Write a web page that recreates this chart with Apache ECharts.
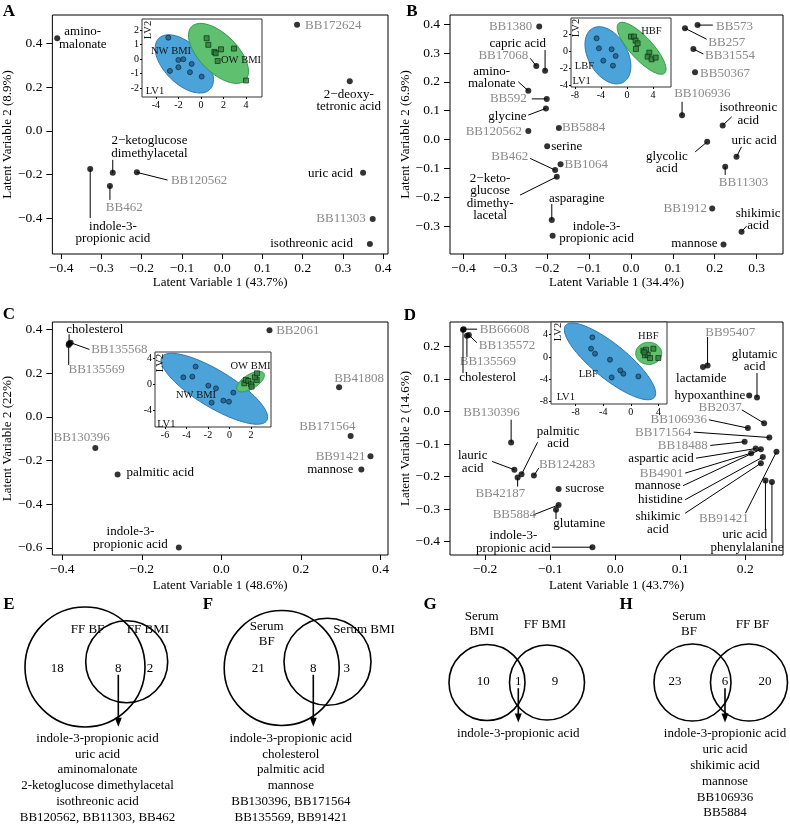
<!DOCTYPE html>
<html>
<head>
<meta charset="utf-8">
<title>PLS-DA panels</title>
<script src="https://cdn.jsdelivr.net/npm/echarts@6/dist/echarts.min.js"></script>
<style>
  html, body { margin: 0; padding: 0; background: #fff; }
  #main { width: 790px; height: 825px; }
</style>
</head>
<body>
<div id="main"></div>
<script>
// ---------- panel A (FF, BMI) ----------
const aNames = ['amino-\nmalonate', 'BB172624', '2\u2212deoxy-\ntetronic acid', 'uric acid', 'BB11303', 'isothreonic acid',
  'indole-3-\npropionic acid', '2\u2212ketoglucose\ndimethylacetal', 'BB462', 'BB120562'];
const aX = [-0.41, 0.186, 0.317, 0.350, 0.374, 0.367, -0.328, -0.272, -0.279, -0.212];
const aY = [0.423, 0.484, 0.226, -0.192, -0.403, -0.517, -0.175, -0.192, -0.252, -0.190];

// ---------- panel B (FF, body fat) ----------
const bNames = ['BB1380', 'capric acid', 'BB17068', 'amino-\nmalonate', 'BB592', 'glycine', 'BB120562', 'BB5884', 'serine',
  'BB1064', 'BB462', '2\u2212keto-\nglucose\ndimethy-\nlacetal', 'asparagine', 'indole-3-\npropionic acid', 'BB573', 'BB257',
  'BB31554', 'BB50367', 'BB106936', 'isothreonic\nacid', 'glycolic\nacid', 'uric acid', 'BB11303', 'BB1912',
  'shikimic\nacid', 'mannose'];
const bX = [-0.219, -0.205, -0.226, -0.245, -0.201, -0.203, -0.245, -0.172, -0.200, -0.168, -0.181, -0.177, -0.189,
  -0.187, 0.159, 0.129, 0.149, 0.153, 0.122, 0.219, 0.182, 0.252, 0.225, 0.194, 0.264, 0.221];
const bY = [0.392, 0.239, 0.255, 0.169, 0.141, 0.108, 0.030, 0.040, -0.023, -0.086, -0.106, -0.129, -0.279, -0.334,
  0.397, 0.386, 0.314, 0.233, 0.084, 0.049, -0.008, -0.060, -0.094, -0.239, -0.320, -0.364];

// ---------- panel C (serum, BMI) ----------
const cNames = ['cholesterol', 'BB135568', 'BB135569', 'BB2061', 'BB41808', 'BB171564', 'BB91421', 'mannose', 'BB130396',
  'palmitic acid', 'indole-3-\npropionic acid'];
const cX = [-0.383, -0.379, -0.384, 0.121, 0.296, 0.325, 0.375, 0.352, -0.317, -0.261, -0.107];
const cY = [0.336, 0.340, 0.330, 0.397, 0.136, -0.087, -0.180, -0.241, -0.142, -0.264, -0.599];

// ---------- panel D (serum, body fat) ----------
const dNames = ['BB66608', 'BB135572', 'BB135569', 'cholesterol', 'BB130396', 'lauric\nacid', 'BB42187', 'palmitic\nacid',
  'BB124283', 'sucrose', 'BB5884', 'glutamine', 'indole-3-\npropionic acid', 'lactamide', 'BB95407', 'hypoxanthine',
  'glutamic\nacid', 'BB2037', 'BB106936', 'BB171564', 'BB18488', 'aspartic acid', 'BB4901', 'mannose', 'histidine',
  'shikimic\nacid', 'BB91421', 'uric acid', 'phenylalanine'];
const dX = [-0.233, -0.225, -0.228, -0.234, -0.160, -0.155, -0.150, -0.144, -0.125, -0.087, -0.087, -0.091, -0.035,
  0.135, 0.142, 0.206, 0.218, 0.229, 0.204, 0.237, 0.199, 0.216, 0.209, 0.224, 0.227, 0.224, 0.248, 0.231, 0.241];
const dY = [0.253, 0.235, 0.233, 0.251, -0.095, -0.179, -0.203, -0.193, -0.197, -0.238, -0.287, -0.302, -0.417,
  0.137, 0.141, 0.049, 0.043, -0.036, -0.051, -0.080, -0.093, -0.114, -0.128, -0.116, -0.140, -0.159, -0.124,
  -0.212, -0.217];

// axis ticks and titles
const aTicksX = [-0.4, -0.3, -0.2, -0.1, 0, 0.1, 0.2, 0.3, 0.4];
const aTicksY = [-0.4, -0.2, 0, 0.2, 0.4];
const bTicksX = [-0.4, -0.3, -0.2, -0.1, 0, 0.1, 0.2, 0.3];
const bTicksY = [-0.3, -0.2, -0.1, 0, 0.1, 0.2, 0.3, 0.4];
const cTicksX = [-0.4, -0.2, 0, 0.2, 0.4];
const cTicksY = [-0.6, -0.4, -0.2, 0, 0.2, 0.4];
const dTicksX = [-0.2, -0.1, 0, 0.1, 0.2];
const dTicksY = [-0.4, -0.3, -0.2, -0.1, 0, 0.1, 0.2];
const xTitles = ['Latent Variable 1 (43.7%)', 'Latent Variable 1 (34.4%)', 'Latent Variable 1 (48.6%)', 'Latent Variable 1 (43.7%)'];
const yTitles = ['Latent Variable 2 (8.9%)', 'Latent Variable 2 (6.9%)', 'Latent Variable 2 (22%)', 'Latent Variable 2 (14.6%)'];

// ---------- inset score plots (LV1, LV2) ----------
const insBlueX = [
  [-2.90, -2.76, -2.01, -1.57, -2.01, -0.83, -0.98, 0.06],
  [-4.67, -4.31, -2.36, -1.74, -3.64, -2.15],
  [-3.15, -4.29, -3.46, -1.97, -1.26, 0.36, -1.66, -0.57, -0.05],
  [-5.58, -5.77, -5.19, -3.02, -1.52, -1.08, -2.78, 1.10]];
const insBlueY = [
  [1.47, -0.81, -0.06, -0.01, -0.56, -0.33, -0.90, -1.20],
  [1.49, 0.31, 0.20, -0.59, -1.14, -1.73],
  [2.72, 1.08, 1.18, -0.21, -0.62, -1.28, -2.82, -2.51, -2.67],
  [3.52, 1.48, 0.58, -0.50, -2.42, -3.02, -3.68, -3.50]];
const insGreenX = [
  [0.50, 0.65, 1.19, 1.30, 1.78, 1.48, 2.93, 4.00],
  [0.62, 1.08, 1.33, 1.64, 1.38, 3.44, 3.18, 3.79, 4.41],
  [1.38, 1.53, 1.75, 2.00, 2.06, 2.53, 2.37, 2.56],
  [1.82, 2.21, 2.06, 2.45, 2.79, 3.27, 4.00, 1.97]];
const insGreenY = [
  [1.43, 0.98, 0.49, 0.40, 0.67, -0.13, 0.72, -1.47],
  [1.69, 1.69, 1.22, 0.90, 0.24, -0.20, -0.67, -0.98, -0.78],
  [0.15, 0.67, 0.51, 0.00, -0.36, 0.67, 1.08, 1.69],
  [1.12, 1.30, 0.28, 0.40, -0.20, 1.48, -0.20, 0.82]];
// confidence ellipses: major-axis end points (x1, y1, x2, y2) and minor/major ratio
const insBlueEll = [[-3.75, 1.42, 0.79, -2.08, 0.55], [-5.31, 2.65, -0.54, -3.67, 0.63],
  [-6.29, 4.20, 3.47, -5.58, 0.30], [-9.46, 5.67, 3.42, -7.27, 0.30]];
const insGreenEll = [[-0.83, 2.23, 3.94, -1.45, 0.50], [-1.28, 3.24, 5.79, -2.61, 0.33],
  [0.71, -0.86, 3.20, 1.68, 0.45], [0.71, 0.64, 4.48, 0.64, 0.85]];
const insTicksX = [[-4, -2, 0, 2, 4], [-8, -4, 0, 4], [-6, -4, -2, 0, 2], [-8, -4, 0, 4]];
const insTicksY = [[-2, -1, 0, 1, 2], [-4, -2, 0, 2], [-4, 0, 4], [-8, -4, 0, 4]];
const insBlueName = ['NW BMI', 'LBF', 'NW BMI', 'LBF'];
const insGreenName = ['OW BMI', 'HBF', 'OW BMI', 'HBF'];

// ---------- Venn diagrams E-H ----------
const vennSetA = ['FF BF', 'Serum\nBF', 'Serum\nBMI', 'Serum\nBF'];
const vennSetB = ['FF BMI', 'Serum BMI', 'FF BMI', 'FF BF'];
const vennOnlyA = [18, 21, 10, 23];
const vennBoth = [8, 8, 1, 6];
const vennOnlyB = [2, 3, 9, 20];
const vennShared = [
  ['indole-3-propionic acid', 'uric acid', 'aminomalonate', '2-ketoglucose dimethylacetal', 'isothreonic acid', 'BB120562, BB11303, BB462'],
  ['indole-3-propionic acid', 'cholesterol', 'palmitic acid', 'mannose', 'BB130396, BB171564', 'BB135569, BB91421'],
  ['indole-3-propionic acid'],
  ['indole-3-propionic acid', 'uric acid', 'shikimic acid', 'mannose', 'BB106936', 'BB5884']];

// ================= layout (positions / styles only) =================
const SERIF = '"Liberation Serif", "Times New Roman", serif';
const mainGrid = [
  { left: 49, top: 15, width: 339, height: 239 },
  { left: 450, top: 15, width: 333, height: 239 },
  { left: 49, top: 322, width: 339, height: 233 },
  { left: 450, top: 322, width: 333, height: 233 }];
const mainRangeX = [[-0.422, 0.412], [-0.432, 0.363], [-0.425, 0.419], [-0.254, 0.258]];
const mainRangeY = [[-0.563, 0.529], [-0.397, 0.432], [-0.633, 0.435], [-0.441, 0.275]];
const xNameGap = [22, 22, 24, 24];
const yNameGap = [29, 32, 27, 35];
const insGrid = [
  { left: 142, top: 19, width: 120, height: 78 },
  { left: 571, top: 18, width: 100, height: 69 },
  { left: 155, top: 352, width: 116, height: 75 },
  { left: 551, top: 322, width: 116, height: 82 }];
const insRangeX = [[-5.24, 5.42], [-8.6, 6.77], [-6.93, 3.86], [-11.58, 5.25]];
const insRangeY = [[-2.6, 2.75], [-4.24, 3.88], [-6.57, 4.97], [-8.46, 6.28]];

// label placement per point: [dx, dy, align, lineEndDx, lineEndDy]  (pixels from the point)
const aLay = [[25.5, 0, 'c'], [8, 1, 'l'], [-1, 19.5, 'c'], [-10, 0.5, 'r'], [-7, 0, 'r'], [-17, 0, 'r'],
  [22.7, 63.5, 'c', 0, 49], [36.7, -25.7, 'c', 0, -13], [14.3, 21.3, 'c', 0, 14], [34, 8, 'l', 30.7, 7.7]];
const bLay = [[-7, 0, 'r'], [-27.3, -27.4, 'c', 0, -20.7], [-8, -10, 'r', -6, -7.7], [-36.6, -13.2, 'c', -10, -9],
  [-20, 0, 'r', -15, 0], [-19.3, 8.4, 'r', -17.7, 6.7], [-6.3, 1, 'r'], [3, 0, 'l'], [4, 0.7, 'l'], [4, 0, 'l'],
  [-27, -14, 'r', -25, -11.7], [-66.7, 20.5, 'c', -36.7, 18.3], [25, -21.7, 'c', 0, -16], [44, -3.2, 'c'],
  [18.5, 1.7, 'l', 15.3, 0], [23.3, 14, 'l', 21.7, 11], [11.7, 7, 'l', 10, 5], [5, 1.7, 'l'],
  [20.3, -21.3, 'c', 0, -13.6], [25.6, -11.1, 'c', 9, -8.6], [-40.3, 20.8, 'c', -12, 10], [17.6, -16, 'c', 5, -10],
  [18.3, 16, 'c', 0, 8.3], [-5.3, 0, 'r'], [16.6, -12, 'c', 5, -5.7], [-6, -1, 'r']];
const cLay = [[25.7, -14, 'c', 0, -9.3], [20.5, 6.7, 'l', 18.7, 6.7], [28, 25, 'c', 0, 20], [6.7, 0.7, 'l'],
  [20, -8.7, 'c'], [-23.3, -9.7, 'c'], [-5, 0, 'r'], [-8, 0, 'r'], [-13.7, -10, 'c'], [9, -1.6, 'l'], [-48.4, -9.3, 'c']];
const dLay = [[16, 0, 'l', 13.4, 0], [10, 10.4, 'l', 8, 7.7], [21, 25.7, 'c', 0, 21.3], [24.7, 47.7, 'c', 0, 43.3],
  [-19.6, -29.4, 'c', 0, -22.7], [-41.7, -7.5, 'c', -22.3, -8.3], [-17.3, 15.6, 'c', 0, 9], [36.6, -36.8, 'c', 16, -32],
  [5, -11.4, 'l', 5, -7.7], [6.7, 0, 'l'], [-44.3, 10, 'c', -25.3, 10], [23.3, 14, 'c', 0, 9.3],
  [-79, -5.3, 'c', -40.6, 0], [-1.7, 11.7, 'c'], [22.7, -32.7, 'c', 0, -28.7], [-4, 0, 'r'],
  [-2.4, -36.9, 'c', 0, -24.4], [-44, -15.6, 'c', -22.3, -13.3], [-41, -9, 'r', -39, -8.3],
  [-78, -5.4, 'r', -75.7, -5.4], [-37, 3.7, 'r', -34.3, 3.7], [-62, 9.6, 'r', -59.7, 9.6], [-68, 20, 'r', -66, 20],
  [-80, 36.4, 'r', -77.7, 36.4], [-80, 42.7, 'r', -77.7, 42.7], [-103, 60, 'c', -75.7, 50],
  [-52.7, 66.3, 'c', -31, 61.3], [-20.7, 54.3, 'c', 0, 49.3], [-25, 65, 'c', 0, 61]];

// Venn geometry in the hidden grid (1 unit = 10 px)
const vennCircA = [[8.5, 7.2, 6.0], [28.17, 7.3, 5.75], [48.7, 8.75, 3.8], [69.25, 8.75, 3.85]];
const vennCircB = [[12.67, 6.67, 4.1], [32.75, 6.67, 4.35], [54.7, 8.75, 3.75], [74.9, 8.75, 3.85]];
const vennSetAPos = [[8.75, 3.5], [26.67, 3.95], [48.17, 2.95], [68.9, 2.95]];
const vennSetBPos = [[14.8, 3.5], [36.4, 3.5], [54.5, 3.0], [75.25, 3.0]];
const vennOnlyAPos = [[5.73, 7.33], [25.83, 7.33], [48.33, 8.67], [67.5, 8.67]];
const vennBothPos = [[11.83, 7.33], [31.33, 7.33], [51.83, 8.67], [72.5, 8.67]];
const vennOnlyBPos = [[15.0, 7.33], [34.67, 7.33], [55.5, 8.67], [76.5, 8.67]];
const vennListPos = [[9.75, 14.33], [29.08, 14.33], [51.83, 13.9], [72.5, 13.9]];

// ================= build =================
const chart = echarts.init(document.getElementById('main'));

function fmt1(v) {
  return (v < 0 ? '\u2212' : '') + Math.abs(v).toFixed(1);
}
function fmt0(v) {
  return (v < 0 ? '-' : '') + Math.abs(v);
}

function pointSeries(g, xs, ys) {
  return {
    type: 'scatter', xAxisIndex: g, yAxisIndex: g, z: 4, silent: true,
    symbolSize: 6, itemStyle: { color: '#000' },
    data: xs.map((x, i) => [x, ys[i]])
  };
}

function labelSeries(g, names, xs, ys, lay) {
  return {
    type: 'custom', xAxisIndex: g, yAxisIndex: g, z: 3, silent: true,
    data: xs.map((x, i) => [x, ys[i]]),
    renderItem: function (params, api) {
      const i = params.dataIndex;
      const p = api.coord([api.value(0), api.value(1)]);
      const L = lay[i];
      const al = { l: 'left', r: 'right', c: 'center' }[L[2]];
      const kids = [];
      if (L.length > 3) {
        kids.push({
          type: 'line',
          shape: { x1: p[0], y1: p[1], x2: p[0] + L[3], y2: p[1] + L[4] },
          style: { stroke: '#000', lineWidth: 1 }
        });
      }
      kids.push({
        type: 'text', x: p[0] + L[0], y: p[1] + L[1],
        style: {
          text: names[i], fill: names[i].indexOf('BB') === 0 ? '#8a8a8a' : '#000',
          font: '13px ' + SERIF, textAlign: al, textVerticalAlign: 'middle',
          align: al, verticalAlign: 'middle', lineHeight: 12.5
        }
      });
      return { type: 'group', children: kids };
    }
  };
}

function ellipseSeries(g, rows, fill, stroke) {
  return {
    type: 'custom', xAxisIndex: g, yAxisIndex: g, z: 12, silent: true,
    data: rows,
    renderItem: function (params, api) {
      const p1 = api.coord([api.value(0), api.value(1)]);
      const p2 = api.coord([api.value(2), api.value(3)]);
      const cx = (p1[0] + p2[0]) / 2, cy = (p1[1] + p2[1]) / 2;
      const hx = (p2[0] - p1[0]) / 2, hy = (p2[1] - p1[1]) / 2;
      const a = Math.sqrt(hx * hx + hy * hy);
      const ux = hx / a, uy = hy / a, b = a * api.value(4);
      const pts = [];
      for (let k = 0; k < 90; k++) {
        const t = Math.PI * 2 * k / 90;
        pts.push([cx + a * Math.cos(t) * ux - b * Math.sin(t) * uy,
                  cy + a * Math.cos(t) * uy + b * Math.sin(t) * ux]);
      }
      return { type: 'polygon', shape: { points: pts }, style: { fill: fill, stroke: stroke, lineWidth: 1 } };
    }
  };
}

const grids = [], xAxes = [], yAxes = [], series = [];
const panelX = [aX, bX, cX, dX], panelY = [aY, bY, cY, dY];
const panelNames = [aNames, bNames, cNames, dNames];
const panelLay = [aLay, bLay, cLay, dLay];
const ticksX = [aTicksX, bTicksX, cTicksX, dTicksX], ticksY = [aTicksY, bTicksY, cTicksY, dTicksY];

for (let i = 0; i < 4; i++) {
  grids.push(Object.assign({ show: true, borderColor: '#000', borderWidth: 1, backgroundColor: 'transparent', z: 1 }, mainGrid[i]));
  xAxes.push({
    gridIndex: i, type: 'value', min: mainRangeX[i][0], max: mainRangeX[i][1],
    name: xTitles[i], nameLocation: 'middle', nameGap: xNameGap[i],
    nameTextStyle: { fontFamily: SERIF, fontSize: 13, color: '#000' },
    axisLine: { show: false, onZero: false }, splitLine: { show: false },
    axisTick: { show: true, length: 5, customValues: ticksX[i], lineStyle: { color: '#000' } },
    axisLabel: { customValues: ticksX[i], formatter: fmt1, fontFamily: SERIF, fontSize: 13.5, color: '#000', margin: 7 }
  });
  yAxes.push({
    gridIndex: i, type: 'value', min: mainRangeY[i][0], max: mainRangeY[i][1],
    name: yTitles[i], nameLocation: 'middle', nameGap: yNameGap[i],
    nameTextStyle: { fontFamily: SERIF, fontSize: 13, color: '#000' },
    axisLine: { show: false, onZero: false }, splitLine: { show: false },
    axisTick: { show: true, length: 6, customValues: ticksY[i], lineStyle: { color: '#000' } },
    axisLabel: { customValues: ticksY[i], formatter: fmt1, fontFamily: SERIF, fontSize: 13.5, color: '#000', margin: 10 }
  });
  series.push(labelSeries(i, panelNames[i], panelX[i], panelY[i], panelLay[i]));
  series.push(pointSeries(i, panelX[i], panelY[i]));
}

for (let i = 0; i < 4; i++) {
  const g = 4 + i;
  grids.push(Object.assign({ show: true, borderColor: '#333', borderWidth: 1, backgroundColor: '#fff', z: 10 }, insGrid[i]));
  xAxes.push({
    gridIndex: g, type: 'value', min: insRangeX[i][0], max: insRangeX[i][1], z: 11,
    axisLine: { show: false, onZero: false }, splitLine: { show: false },
    axisTick: { show: true, length: 2, customValues: insTicksX[i], lineStyle: { color: '#000' } },
    axisLabel: { customValues: insTicksX[i], formatter: fmt0, fontFamily: SERIF, fontSize: 10, color: '#000', margin: 3 }
  });
  yAxes.push({
    gridIndex: g, type: 'value', min: insRangeY[i][0], max: insRangeY[i][1], z: 11,
    axisLine: { show: false, onZero: false }, splitLine: { show: false },
    axisTick: { show: true, length: 2, customValues: insTicksY[i], lineStyle: { color: '#000' } },
    axisLabel: { customValues: insTicksY[i], formatter: fmt0, fontFamily: SERIF, fontSize: 10, color: '#000', margin: 3 }
  });
  series.push(ellipseSeries(g, [insBlueEll[i]], '#4ba3da', '#2b78b0'));
  series.push(ellipseSeries(g, [insGreenEll[i]], '#5fc06f', '#2f9a45'));
  series.push({
    type: 'scatter', xAxisIndex: g, yAxisIndex: g, z: 13, silent: true, symbol: 'circle', symbolSize: 5,
    itemStyle: { color: '#1f5d8a', borderColor: '#0a1f30', borderWidth: 0.8 },
    data: insBlueX[i].map((x, k) => [x, insBlueY[i][k]])
  });
  series.push({
    type: 'scatter', xAxisIndex: g, yAxisIndex: g, z: 13, silent: true, symbol: 'rect', symbolSize: 5,
    itemStyle: { color: '#2f7d3b', borderColor: '#0b240f', borderWidth: 0.8 },
    data: insGreenX[i].map((x, k) => [x, insGreenY[i][k]])
  });
}

// hidden grid for the Venn diagrams
grids.push({ left: 0, top: 595, width: 790, height: 230, show: false });
xAxes.push({ gridIndex: 8, type: 'value', min: 0, max: 79, show: false });
yAxes.push({ gridIndex: 8, type: 'value', min: 0, max: 23, inverse: true, show: false });
series.push({
  type: 'custom', xAxisIndex: 8, yAxisIndex: 8, silent: true,
  data: vennBoth.map((v, i) => [i, v]),
  renderItem: function (params, api) {
    const i = params.dataIndex;
    const u = api.size([1, 0])[0];
    const kids = [];
    [vennCircA[i], vennCircB[i]].forEach(function (c) {
      const p = api.coord([c[0], c[1]]);
      kids.push({ type: 'circle', shape: { cx: p[0], cy: p[1], r: c[2] * u },
        style: { fill: 'none', stroke: '#000', lineWidth: 1.6 } });
    });
    function txt(pos, s) {
      const p = api.coord(pos);
      kids.push({ type: 'text', x: p[0], y: p[1], style: { text: String(s), fill: '#000', font: '13px ' + SERIF,
        textAlign: 'center', textVerticalAlign: 'middle', align: 'center', verticalAlign: 'middle', lineHeight: 15 } });
    }
    txt(vennSetAPos[i], vennSetA[i]);
    txt(vennSetBPos[i], vennSetB[i]);
    txt(vennOnlyAPos[i], vennOnlyA[i]);
    txt(vennBothPos[i], api.value(1));
    txt(vennOnlyBPos[i], vennOnlyB[i]);
    // arrow from the shared count to the list of shared metabolites
    const a0 = api.coord([vennBothPos[i][0], vennBothPos[i][1] + 0.65]);
    const a1 = api.coord([vennBothPos[i][0], vennListPos[i][1] - 1.15]);
    kids.push({ type: 'line', shape: { x1: a0[0], y1: a0[1], x2: a1[0], y2: a1[1] - 8 },
      style: { stroke: '#000', lineWidth: 1.6 } });
    kids.push({ type: 'polygon', shape: { points: [[a1[0] - 3.5, a1[1] - 9], [a1[0] + 3.5, a1[1] - 9], [a1[0], a1[1]]] },
      style: { fill: '#000' } });
    vennShared[i].forEach(function (s, k) {
      txt([vennListPos[i][0], vennListPos[i][1] + k * 1.58], s);
    });
    return { type: 'group', children: kids };
  }
});

// annotation texts: panel letters and inset labels
const letters = [['A', 9, 12], ['B', 412, 12], ['C', 9, 315], ['D', 410, 316],
  ['E', 9, 605], ['F', 208, 605], ['G', 430, 605], ['H', 626, 605]];
const insLabelPos = [
  { nw: [171, 51], ow: [241, 60], lv2: [148, 30], lv1: [155, 91] },
  { nw: [584.5, 66], ow: [651.5, 31.7], lv2: [576.5, 28], lv1: [581.7, 81.7] },
  { nw: [196, 395], ow: [250.5, 366.7], lv2: [160, 363], lv1: [166.3, 424] },
  { nw: [588.3, 374.7], ow: [648.3, 336.3], lv2: [558.3, 332], lv1: [565.8, 397] }];
const gfx = [];
letters.forEach(function (l) {
  gfx.push({ type: 'text', x: l[1], y: l[2], z: 30,
    style: { text: l[0], font: 'bold 17px ' + SERIF, fill: '#000', textAlign: 'center', textVerticalAlign: 'middle',
      align: 'center', verticalAlign: 'middle' } });
});
insLabelPos.forEach(function (p, i) {
  const st = function (t) {
    return { text: t, font: '10.5px ' + SERIF, fill: '#111', textAlign: 'center', textVerticalAlign: 'middle',
      align: 'center', verticalAlign: 'middle' };
  };
  gfx.push({ type: 'text', x: p.nw[0], y: p.nw[1], z: 30, style: st(insBlueName[i]) });
  gfx.push({ type: 'text', x: p.ow[0], y: p.ow[1], z: 30, style: st(insGreenName[i]) });
  gfx.push({ type: 'text', x: p.lv1[0], y: p.lv1[1], z: 30, style: st('LV1') });
  gfx.push({ type: 'text', x: p.lv2[0], y: p.lv2[1], z: 30, rotation: Math.PI / 2, style: st('LV2') });
});

chart.setOption({
  animation: false,
  backgroundColor: '#fff',
  grid: grids,
  xAxis: xAxes,
  yAxis: yAxes,
  series: series,
  graphic: { elements: gfx }
});
</script>
</body>
</html>
